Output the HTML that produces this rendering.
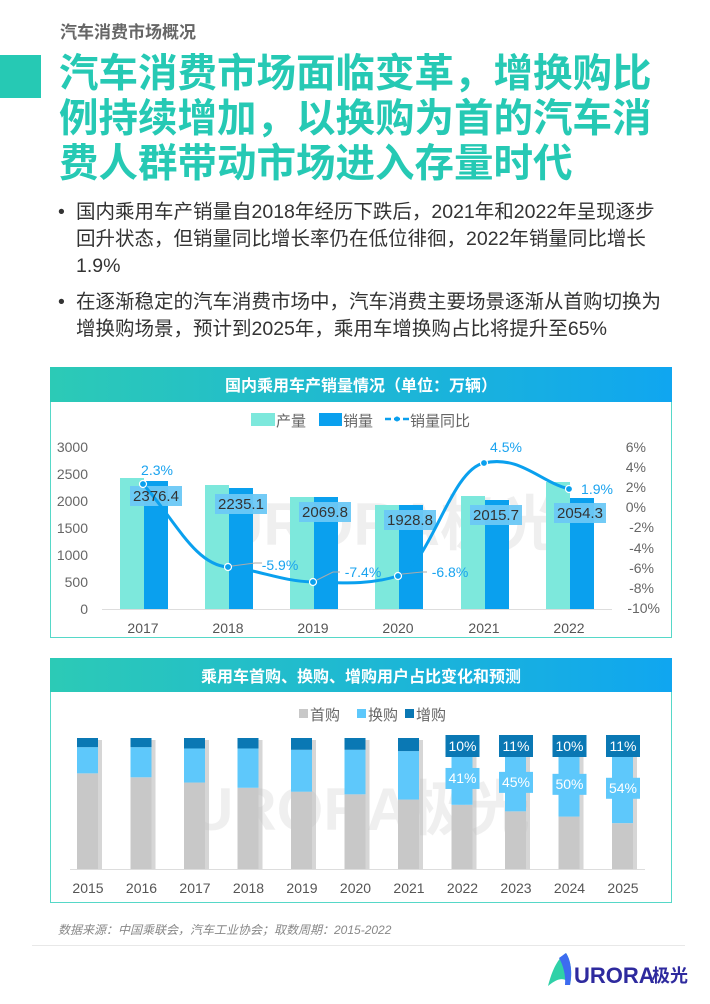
<!DOCTYPE html>
<html><head><meta charset="utf-8">
<style>
body{margin:0;width:710px;height:1004px;background:#fff;position:relative;overflow:hidden;font-family:"Liberation Sans","Noto Sans CJK SC",sans-serif;}
.a{position:absolute;white-space:nowrap;}
</style></head><body>
<div class="a" style="left:60px;top:18px;font-size:17px;font-weight:bold;color:#666;">汽车消费市场概况</div>
<div class="a" style="left:0;top:55px;width:41px;height:43px;background:#26c9b4;"></div>
<div class="a" style="left:59px;top:52px;font-size:39.5px;line-height:45px;font-weight:bold;color:#26c9b4;">汽车消费市场面临变革，增换购比<br>例持续增加，以换购为首的汽车消<br>费人群带动市场进入存量时代</div>
<div class="a" style="left:58px;top:199px;font-size:19.5px;line-height:27px;color:#333;">•</div>
<div class="a" style="left:76px;top:199px;font-size:19.5px;line-height:27px;color:#333;">国内乘用车产销量自2018年经历下跌后，2021年和2022年呈现逐步<br>回升状态，但销量同比增长率仍在低位徘徊，2022年销量同比增长<br>1.9%</div>
<div class="a" style="left:58px;top:289px;font-size:19.5px;line-height:27px;color:#333;">•</div>
<div class="a" style="left:76px;top:289px;font-size:19.5px;line-height:27px;color:#333;">在逐渐稳定的汽车消费市场中，汽车消费主要场景逐渐从首购切换为<br>增换购场景，预计到2025年，乘用车增换购占比将提升至65%</div>

<svg class="a" style="left:0;top:0" width="710" height="1004" font-family="Liberation Sans, Noto Sans CJK SC, sans-serif">
<defs>
<linearGradient id="hg" x1="0" x2="1"><stop offset="0" stop-color="#2ccab6"/><stop offset="1" stop-color="#10a6f0"/></linearGradient>
</defs>
<rect x="50.5" y="367.5" width="621" height="270" fill="#fff" stroke="#56d8c8"/>
<rect x="50" y="367" width="622" height="35" fill="url(#hg)"/>
<text x="361" y="391" font-size="16" font-weight="bold" fill="#fff" text-anchor="middle">国内乘用车产销量情况（单位：万辆）</text>
<g font-size="15" fill="#666">
<rect x="251" y="413" width="24" height="13" fill="#7de8dc"/><text x="276" y="426">产量</text>
<rect x="319" y="413" width="23" height="13" fill="#0aa0ee"/><text x="343" y="426">销量</text>
<line x1="385" y1="419" x2="409" y2="419" stroke="#0aa0ee" stroke-width="2.5" stroke-dasharray="6,3"/><circle cx="397" cy="419" r="2.5" fill="#0aa0ee"/><text x="410" y="426">销量同比</text>
</g>
<text x="390" y="545" font-size="60" font-weight="bold" fill="#000" opacity="0.06" text-anchor="middle">URORA极光</text>
<g font-size="14" fill="#666" text-anchor="end">
<text x="88" y="452">3000</text><text x="88" y="479">2500</text><text x="88" y="506">2000</text><text x="88" y="533">1500</text><text x="88" y="560">1000</text><text x="88" y="587">500</text><text x="88" y="614">0</text>
</g>
<g font-size="14" fill="#666" text-anchor="end">
<text x="646" y="452">6%</text><text x="646" y="472">4%</text><text x="646" y="492">2%</text><text x="646" y="512">0%</text><text x="654" y="532">-2%</text><text x="654" y="553">-4%</text><text x="654" y="573">-6%</text><text x="654" y="593">-8%</text><text x="660" y="613">-10%</text>
</g>
<line x1="102" y1="609.5" x2="612" y2="609.5" stroke="#ddd"/>
<g>
<rect x="120" y="478" width="24" height="131" fill="#7de8dc"/>
<rect x="205" y="485" width="24" height="124" fill="#7de8dc"/>
<rect x="290" y="497" width="24" height="112" fill="#7de8dc"/>
<rect x="375" y="505" width="24" height="104" fill="#7de8dc"/>
<rect x="461" y="496" width="24" height="113" fill="#7de8dc"/>
<rect x="546" y="482" width="24" height="127" fill="#7de8dc"/>
<rect x="144" y="481" width="24" height="128" fill="#0aa0ee"/>
<rect x="229" y="488" width="24" height="121" fill="#0aa0ee"/>
<rect x="314" y="497" width="24" height="112" fill="#0aa0ee"/>
<rect x="399" y="505" width="24" height="104" fill="#0aa0ee"/>
<rect x="485" y="500" width="24" height="109" fill="#0aa0ee"/>
<rect x="570" y="498" width="24" height="111" fill="#0aa0ee"/>
</g>
<g fill="#6cc9f6" opacity="0.95">
<rect x="130" y="486" width="52" height="20"/><rect x="215" y="494" width="52" height="20"/><rect x="299" y="502" width="52" height="20"/><rect x="384" y="510" width="52" height="20"/><rect x="470" y="505" width="52" height="20"/><rect x="554" y="503" width="52" height="20"/>
</g>
<path d="M143,484 C175,520 195,565 228,567 C260,570 280,581 313,582 C345,583 368,585 398,576 C430,566 450,470 484,463 C520,455 540,482 569,489" fill="none" stroke="#0aa0ee" stroke-width="3"/>
<g font-size="15" fill="#333" text-anchor="middle">
<text x="156" y="501">2376.4</text><text x="241" y="509">2235.1</text><text x="325" y="517">2069.8</text><text x="410" y="525">1928.8</text><text x="496" y="520">2015.7</text><text x="580" y="518">2054.3</text>
</g>
<g fill="#0aa0ee" stroke="#fff" stroke-width="1.2">
<circle cx="143" cy="484" r="3.5"/><circle cx="228" cy="567" r="3.5"/><circle cx="313" cy="582" r="3.5"/><circle cx="398" cy="576" r="3.5"/><circle cx="484" cy="463" r="3.5"/><circle cx="569" cy="489" r="3.5"/>
</g>
<g stroke="#aaa" fill="none"><path d="M232,566 L255,563 L262,563"/><path d="M317,580 L333,572 L340,572"/><path d="M402,574 L422,572 L427,572"/></g>
<g font-size="14" fill="#1aa3ef" text-anchor="middle">
<text x="157" y="475">2.3%</text><text x="280" y="570">-5.9%</text><text x="363" y="577">-7.4%</text><text x="450" y="577">-6.8%</text><text x="506" y="452">4.5%</text><text x="597" y="494">1.9%</text>
</g>
<g font-size="14" fill="#555" text-anchor="middle">
<text x="143" y="633">2017</text><text x="228" y="633">2018</text><text x="313" y="633">2019</text><text x="398" y="633">2020</text><text x="484" y="633">2021</text><text x="569" y="633">2022</text>
</g>

<rect x="50.5" y="658.5" width="621" height="244" fill="#fff" stroke="#56d8c8"/>
<rect x="50" y="658" width="622" height="34" fill="url(#hg)"/>
<text x="361" y="682" font-size="16" font-weight="bold" fill="#fff" text-anchor="middle">乘用车首购、换购、增购用户占比变化和预测</text>
<g font-size="15" fill="#666">
<rect x="299" y="709" width="9" height="9" fill="#c8c8c8"/><text x="310" y="720">首购</text>
<rect x="357" y="709" width="9" height="9" fill="#5ec8fb"/><text x="368" y="720">换购</text>
<rect x="405" y="709" width="9" height="9" fill="#0a78b4"/><text x="416" y="720">增购</text>
</g>
<text x="360" y="830" font-size="60" font-weight="bold" fill="#000" opacity="0.06" text-anchor="middle">URORA极光</text>
<line x1="70" y1="869.5" x2="645" y2="869.5" stroke="#ddd"/>
<g id="bars2"></g>
<g font-size="14" fill="#555" text-anchor="middle">
<text x="88" y="893">2015</text><text x="141.5" y="893">2016</text><text x="195" y="893">2017</text><text x="248.5" y="893">2018</text><text x="302" y="893">2019</text><text x="355.5" y="893">2020</text><text x="409" y="893">2021</text><text x="462.5" y="893">2022</text><text x="516" y="893">2023</text><text x="569.5" y="893">2024</text><text x="623" y="893">2025</text>
</g>
<text x="58" y="934" font-size="12" font-style="italic" fill="#888">数据来源：中国乘联会，汽车工业协会；取数周期：2015-2022</text>
<line x1="32" y1="945.5" x2="685" y2="945.5" stroke="#e8e8e8"/>
<path d="M548,986 C552,970 558,958 566,953 C572,962 572,976 570,985 C566,978 560,976 548,986 Z" fill="#2fd1a8"/>
<path d="M566,953 C572,962 572,976 570,985 L565,985 C566,975 563,965 559,958 Z" fill="#3d6cf0"/>
<text x="574" y="983" font-size="22" font-weight="bold" fill="#2e2a9e">URORA</text>
<text x="652" y="982" font-size="18" font-weight="bold" fill="#2e2a9e">极光</text>
</svg>
<script>
var d=[[73,20,7],[70,23,7],[66,26,8],[62,30,8],[59,32,9],[57,34,9],[53,37,10],[49,41,10],[44,45,11],[40,50,10],[35,54,11]];
var s='',H=131,B=869;
d.forEach(function(v,i){var cx=88+i*53.5,x=cx-11,w=21;
var h1=v[0]/100*H,h2=v[1]/100*H,h3=v[2]/100*H;
s+='<rect x="'+(x+w)+'" y="'+(B-H+2)+'" width="4" height="'+(H-2)+'" fill="#bbb" opacity="0.6"/>';
s+='<rect x="'+x+'" y="'+(B-h1)+'" width="'+w+'" height="'+h1+'" fill="#c8c8c8"/>';
s+='<rect x="'+x+'" y="'+(B-h1-h2)+'" width="'+w+'" height="'+h2+'" fill="#5ec8fb"/>';
s+='<rect x="'+x+'" y="'+(B-H)+'" width="'+w+'" height="'+h3+'" fill="#0a78b4"/>';
if(i>=7){var m=B-h1-h2/2;
s+='<rect x="'+(cx-17)+'" y="735" width="34" height="22" fill="#0a78b4"/><text x="'+cx+'" y="751" font-size="14" fill="#fff" text-anchor="middle">'+v[2]+'%</text>';
s+='<rect x="'+(cx-17)+'" y="'+(m-10)+'" width="34" height="21" fill="#5ec8fb"/><text x="'+cx+'" y="'+(m+5)+'" font-size="14" fill="#fff" text-anchor="middle">'+v[1]+'%</text>';}
});
document.getElementById('bars2').innerHTML=s;
</script>
</body></html>
